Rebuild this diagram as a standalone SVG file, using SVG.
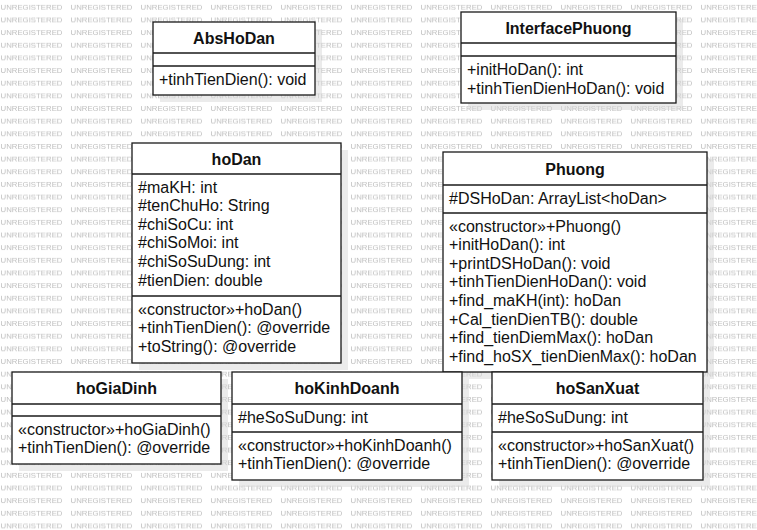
<svg xmlns="http://www.w3.org/2000/svg" width="757" height="530" viewBox="0 0 757 530">
<defs>
<style>
.wm{font-family:"Liberation Sans",Arial,sans-serif;font-size:7.3px;fill:#bdbdbd}
.box{fill:#fff;stroke:#1a1a1a;stroke-width:1.3}
.ln{stroke:#1a1a1a;stroke-width:1.3}
.sh{fill:#d8d8d8;opacity:0.5}
.t{font-family:"Liberation Sans",Arial,sans-serif;font-size:16px;fill:#111}
.h{font-family:"Liberation Sans",Arial,sans-serif;font-size:16px;font-weight:bold;fill:#111;text-anchor:middle}
</style>
<pattern id="wmp" patternUnits="userSpaceOnUse" x="0" y="0" width="70" height="12.65">
<text class="wm" x="0.5" y="9.6" textLength="62" lengthAdjust="spacingAndGlyphs">UNREGISTERED</text>
</pattern>
</defs>
<rect width="757" height="530" fill="#fff"/>
<rect width="757" height="530" fill="url(#wmp)"/>
<g id="shadows">
<rect class="sh" x="160" y="29" width="162" height="73"/>
<rect class="sh" x="468" y="19" width="215" height="91"/>
<rect class="sh" x="139" y="150" width="209" height="220"/>
<rect class="sh" x="450" y="159" width="264" height="220"/>
<rect class="sh" x="19" y="379" width="209" height="92"/>
<rect class="sh" x="239" y="379" width="230" height="108"/>
<rect class="sh" x="499" y="379" width="211" height="108"/>
</g>
<g id="connectors"></g>
<g id="AbsHoDan">
<rect class="box" x="153" y="22" width="162" height="73"/>
<line class="ln" x1="153" y1="53" x2="315" y2="53"/>
<line class="ln" x1="153" y1="66" x2="315" y2="66"/>
<text class="h" x="234" y="43.5">AbsHoDan</text>
<text class="t" x="159" y="85">+tinhTienDien(): void</text>
</g>
<g id="InterfacePhuong">
<rect class="box" x="461" y="12" width="215" height="91"/>
<line class="ln" x1="461" y1="43" x2="676" y2="43"/>
<line class="ln" x1="461" y1="56" x2="676" y2="56"/>
<text class="h" x="568.5" y="33.5">InterfacePhuong</text>
<text class="t" x="467" y="75">+initHoDan(): int</text>
<text class="t" x="467" y="93.5">+tinhTienDienHoDan(): void</text>
</g>
<g id="hoDan">
<rect class="box" x="132" y="143" width="209" height="220"/>
<line class="ln" x1="132" y1="174" x2="341" y2="174"/>
<line class="ln" x1="132" y1="296" x2="341" y2="296"/>
<text class="h" x="236.5" y="164.5">hoDan</text>
<text class="t" x="138" y="192.5">#maKH: int</text>
<text class="t" x="138" y="211.1">#tenChuHo: String</text>
<text class="t" x="138" y="229.7">#chiSoCu: int</text>
<text class="t" x="138" y="248.3">#chiSoMoi: int</text>
<text class="t" x="138" y="266.9">#chiSoSuDung: int</text>
<text class="t" x="138" y="285.5">#tienDien: double</text>
<text class="t" x="138" y="314.5">«constructor»+hoDan()</text>
<text class="t" x="138" y="333.1">+tinhTienDien(): @override</text>
<text class="t" x="138" y="351.7">+toString(): @override</text>
</g>
<g id="Phuong">
<rect class="box" x="443" y="152" width="264" height="220"/>
<line class="ln" x1="443" y1="185" x2="707" y2="185"/>
<line class="ln" x1="443" y1="213" x2="707" y2="213"/>
<text class="h" x="575" y="174.5">Phuong</text>
<text class="t" x="449" y="204">#DSHoDan: ArrayList&lt;hoDan&gt;</text>
<text class="t" x="449" y="231.5">«constructor»+Phuong()</text>
<text class="t" x="449" y="250.1">+initHoDan(): int</text>
<text class="t" x="449" y="268.7">+printDSHoDan(): void</text>
<text class="t" x="449" y="287.3">+tinhTienDienHoDan(): void</text>
<text class="t" x="449" y="305.9">+find_maKH(int): hoDan</text>
<text class="t" x="449" y="324.5">+Cal_tienDienTB(): double</text>
<text class="t" x="449" y="343.1">+find_tienDiemMax(): hoDan</text>
<text class="t" x="449" y="361.7">+find_hoSX_tienDienMax(): hoDan</text>
</g>
<g id="hoGiaDinh">
<rect class="box" x="12" y="372" width="209" height="92"/>
<line class="ln" x1="12" y1="404" x2="221" y2="404"/>
<line class="ln" x1="12" y1="416" x2="221" y2="416"/>
<text class="h" x="116.5" y="394">hoGiaDinh</text>
<text class="t" x="18" y="434.5">«constructor»+hoGiaDinh()</text>
<text class="t" x="18" y="453.1">+tinhTienDien(): @override</text>
</g>
<g id="hoKinhDoanh">
<rect class="box" x="232" y="372" width="230" height="108"/>
<line class="ln" x1="232" y1="404" x2="462" y2="404"/>
<line class="ln" x1="232" y1="432" x2="462" y2="432"/>
<text class="h" x="347" y="394">hoKinhDoanh</text>
<text class="t" x="238" y="422.5">#heSoSuDung: int</text>
<text class="t" x="238" y="450.5">«constructor»+hoKinhDoanh()</text>
<text class="t" x="238" y="469.1">+tinhTienDien(): @override</text>
</g>
<g id="hoSanXuat">
<rect class="box" x="492" y="372" width="211" height="108"/>
<line class="ln" x1="492" y1="404" x2="703" y2="404"/>
<line class="ln" x1="492" y1="432" x2="703" y2="432"/>
<text class="h" x="597.5" y="394">hoSanXuat</text>
<text class="t" x="498" y="422.5">#heSoSuDung: int</text>
<text class="t" x="498" y="450.5">«constructor»+hoSanXuat()</text>
<text class="t" x="498" y="469.1">+tinhTienDien(): @override</text>
</g>
</svg>
